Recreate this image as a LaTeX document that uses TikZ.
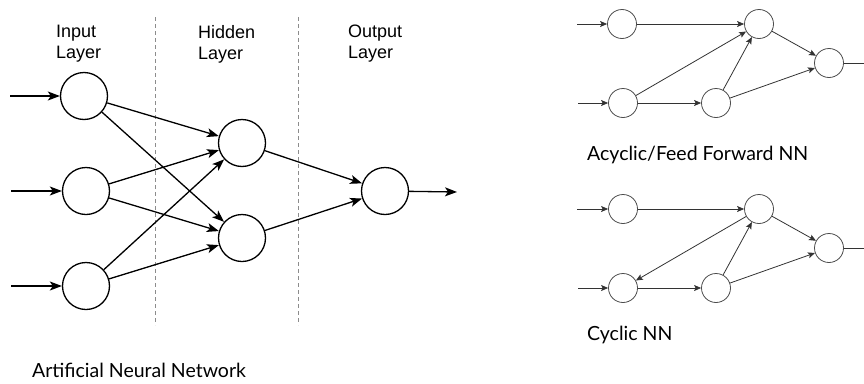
\documentclass[tikz,border=0pt]{standalone}
\usepackage{fontspec}
\setmainfont{Liberation Sans}
\newfontfamily\capfont{Lato}
\usetikzlibrary{arrows.meta}
\begin{document}
\begin{tikzpicture}[x=1pt,y=-1pt,
  bigneuron/.style={circle,draw=black,line width=1.3pt,minimum size=47pt,inner sep=0pt},
  smallneuron/.style={circle,draw=black!70,line width=0.8pt,minimum size=29pt,inner sep=0pt},
  bigedge/.style={line width=1.3pt,-{Stealth[length=12pt,width=9pt,inset=3pt]}},
  smalledge/.style={line width=0.8pt,draw=black!80,-{Stealth[length=7pt,width=6pt,inset=1.5pt]}},
  divider/.style={draw=black!45,line width=1pt,dash pattern=on 4pt off 3pt},
  layerlabel/.style={font=\fontsize{18}{21}\selectfont,align=left,anchor=north west,inner sep=0pt},
  caption/.style={font=\capfont\fontsize{19.5}{22}\selectfont,anchor=base west,inner sep=0pt}]
\useasboundingbox (0,0) rectangle (864,383);

% left network
\draw[divider] (155,17) -- (155,325);
\draw[divider] (298,17) -- (298,325);
\node[layerlabel] (lin) at (56,25) {Input\\Layer};
\node[layerlabel] (lhid) at (198,25) {Hidden\\Layer};
\node[layerlabel] (lout) at (348,25) {Output\\Layer};

\node[bigneuron] (i1) at (84,96) {};
\node[bigneuron] (i2) at (86,191) {};
\node[bigneuron] (i3) at (86,286) {};
\node[bigneuron] (h1) at (242,143) {};
\node[bigneuron] (h2) at (242,238) {};
\node[bigneuron] (o) at (385,191) {};
\coordinate (s1) at (10,96);
\coordinate (s2) at (11,191);
\coordinate (s3) at (11,286);
\coordinate (e) at (457,192);

\draw[bigedge] (s1) -- (i1);
\draw[bigedge] (s2) -- (i2);
\draw[bigedge] (s3) -- (i3);
\foreach \a in {i1,i2,i3}{
  \foreach \b in {h1,h2}{
    \draw[bigedge] (\a) -- (\b);
  }
}
\draw[bigedge] (h1) -- (o);
\draw[bigedge] (h2) -- (o);
\draw[bigedge] (o) -- (e);
\node[caption] (capl) at (32,377) {Artificial Neural Network};

% acyclic
\node[smallneuron] (a1) at (622,24) {};
\node[smallneuron] (a2) at (759,24) {};
\node[smallneuron] (a3) at (829,63) {};
\node[smallneuron] (a4) at (623,103) {};
\node[smallneuron] (a5) at (716,103) {};
\coordinate (as1) at (577,24);
\coordinate (as4) at (578,103);
\coordinate (ae) at (864,63);
\draw[smalledge] (as1) -- (a1);
\draw[smalledge] (as4) -- (a4);
\draw[smalledge] (a1) -- (a2);
\draw[smalledge] (a4) -- (a2);
\draw[smalledge] (a4) -- (a5);
\draw[smalledge] (a5) -- (a2);
\draw[smalledge] (a2) -- (a3);
\draw[smalledge] (a5) -- (a3);
\draw[line width=0.8pt,draw=black!80] (a3) -- (ae);
\node[caption] (capa) at (587,160) {Acyclic/Feed Forward NN};

% cyclic
\node[smallneuron] (c1) at (623,209) {};
\node[smallneuron] (c2) at (759,209) {};
\node[smallneuron] (c3) at (829,248) {};
\node[smallneuron] (c4) at (623,288) {};
\node[smallneuron] (c5) at (716,288) {};
\coordinate (cs1) at (577,209);
\coordinate (cs4) at (578,288);
\coordinate (ce) at (864,248);
\draw[smalledge] (cs1) -- (c1);
\draw[smalledge] (cs4) -- (c4);
\draw[smalledge] (c1) -- (c2);
\draw[smalledge] (c2) -- (c4);
\draw[smalledge] (c4) -- (c5);
\draw[smalledge] (c5) -- (c2);
\draw[smalledge] (c2) -- (c3);
\draw[smalledge] (c5) -- (c3);
\draw[line width=0.8pt,draw=black!80] (c3) -- (ce);
\node[caption] (capc) at (587,340) {Cyclic NN};
\end{tikzpicture}
\end{document}
